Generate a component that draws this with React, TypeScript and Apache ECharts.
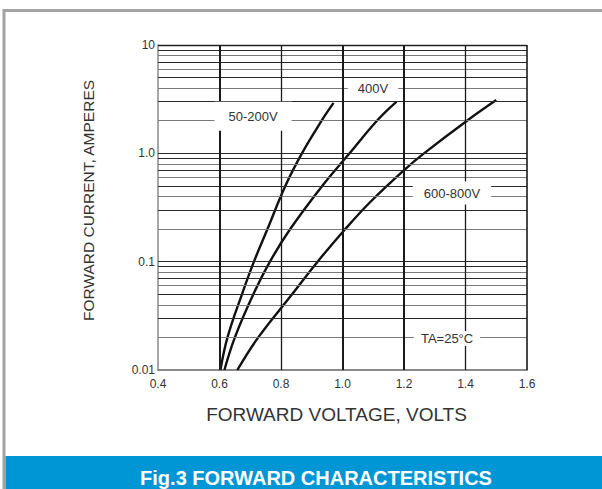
import React, { useEffect, useRef } from "react";
import * as echarts from "echarts";

// ---- data ----
const xTicks = [0.4, 0.6, 0.8, 1.0, 1.2, 1.4, 1.6];
const yTickLabels: Record<string, string> = { "0.01": "0.01", "0.1": "0.1", "1": "1.0", "10": "10" };

const v50x = [0.603, 0.626, 0.673, 0.712, 0.756, 0.814, 0.868, 0.932, 0.971];
const v50y = [0.01, 0.02, 0.05, 0.1, 0.2, 0.5, 1.0, 2.0, 2.92];

const v400x = [0.616, 0.650, 0.710, 0.764, 0.830, 0.934, 1.023, 1.112, 1.176];
const v400y = [0.01, 0.02, 0.05, 0.1, 0.2, 0.5, 1.0, 2.0, 3.0];

const v600x = [0.658, 0.726, 0.836, 0.919, 1.005, 1.088, 1.205, 1.265, 1.405, 1.500];
const v600y = [0.01, 0.02, 0.05, 0.1, 0.194, 0.35, 0.72, 1.0, 2.0, 3.1];

const decades = [0.01, 0.1, 1];
const mantissas = [1, 2, 3, 4, 5, 6, 7, 8, 9];

const curveLabels = [
  { name: "50-200V", x: 0.709, y: 2.2 },
  { name: "400V", x: 1.099, y: 3.95 },
  { name: "600-800V", x: 1.356, y: 0.43 },
  { name: "TA=25°C", x: 1.34, y: 0.0195 },
];

const title = "Fig.3 FORWARD CHARACTERISTICS";
const xName = "FORWARD VOLTAGE, VOLTS";
const yName = "FORWARD CURRENT, AMPERES";

const labelPadding: Record<string, number[]> = {
  "50-200V": [8, 14, 8, 14],
  "400V": [3, 10, 3, 10],
  "600-800V": [5, 11, 5, 11],
  "TA=25°C": [1, 7, 1, 7],
};
const verticalWidths: Record<string, number> = { "0.6": 2, "0.8": 1.3, "1": 2, "1.2": 2, "1.4": 1.3, "1.6": 1.6 };
const FONT = "'Liberation Sans', Arial, sans-serif";

export default function App() {
  const ref = useRef<HTMLDivElement>(null);
  useEffect(() => {
    if (!ref.current) return;
    const chart = echarts.init(ref.current, null, { renderer: "svg" });

    const hLines: any[] = [];
    decades.forEach((d) => {
      mantissas.forEach((m, i) => {
        const v = +(d * m).toPrecision(3);
        if (v <= 0.01) return;
        hLines.push({
          yAxis: v,
          lineStyle: { color: i % 2 === 0 ? "#2a2a2a" : "#7a7a7a", width: 1.1, type: "solid" },
        });
      });
    });
    hLines.push({ yAxis: 10, lineStyle: { color: "#222", width: 1.3, type: "solid" } });
    const vLines = xTicks
      .filter((x) => x > 0.4)
      .map((x) => ({
        xAxis: x,
        lineStyle: { color: "#1a1a1a", width: verticalWidths[String(x)] || 1.3, type: "solid" },
      }));

    const curve = (xs: number[], ys: number[]) => ({
      type: "line",
      data: xs.map((x, i) => [x, ys[i]]),
      showSymbol: false,
      smooth: 0.4,
      z: 4,
      lineStyle: { color: "#111", width: 2.4 },
      silent: true,
    });

    chart.setOption({
      animation: false,
      backgroundColor: "#fff",
      grid: { left: 158, top: 45, width: 369, height: 325 },
      graphic: [
        {
          type: "rect",
          shape: { x: 4, y: 10.5, width: 640, height: 520 },
          style: { fill: "none", stroke: "#a3a3a3", lineWidth: 3 },
          z: 0,
        },
        {
          type: "rect",
          shape: { x: 5.5, y: 456, width: 620, height: 40 },
          style: { fill: "#0096d6" },
          z: 1,
        },
        {
          type: "text",
          x: 316,
          y: 477.5,
          style: {
            text: title,
            fill: "#fff",
            font: `bold 20px ${FONT}`,
            align: "center",
            verticalAlign: "middle",
          },
          z: 2,
        },
      ],
      xAxis: {
        type: "value",
        min: 0.4,
        max: 1.6,
        interval: 0.2,
        name: xName,
        nameLocation: "middle",
        nameGap: 35,
        nameTextStyle: { color: "#333", fontSize: 19, fontFamily: FONT, padding: [0, 12, 0, 0] },
        axisLine: { show: true, lineStyle: { color: "#8a8a8a", width: 2 } },
        axisTick: { show: false },
        splitLine: { show: false },
        axisLabel: {
          color: "#333",
          fontSize: 12,
          margin: 8,
          fontFamily: FONT,
          formatter: (v: number) => v.toFixed(1),
        },
      },
      yAxis: {
        type: "log",
        logBase: 10,
        min: 0.01,
        max: 10,
        name: yName,
        nameLocation: "middle",
        nameGap: 62,
        nameTextStyle: { color: "#333", fontSize: 15.5, fontFamily: FONT, padding: [0, 0, 0, 14] },
        axisLine: { show: true, lineStyle: { color: "#8a8a8a", width: 1.5 } },
        axisTick: { show: false },
        splitLine: { show: false },
        axisLabel: {
          color: "#333",
          fontSize: 12,
          margin: 3,
          fontFamily: FONT,
          formatter: (v: number) => yTickLabels[String(+v.toPrecision(3))] ?? "",
        },
      },
      series: [
        {
          type: "line",
          data: [],
          z: 1,
          silent: true,
          markLine: {
            silent: true,
            symbol: ["none", "none"],
            label: { show: false },
            animation: false,
            data: [...hLines, ...vLines],
          },
        },
        curve(v50x, v50y),
        curve(v400x, v400y),
        curve(v600x, v600y),
        {
          type: "scatter",
          data: [],
          z: 6,
          silent: true,
          markPoint: {
            silent: true,
            symbol: "circle",
            symbolSize: 1,
            itemStyle: { color: "rgba(0,0,0,0)" },
            data: curveLabels.map((l) => ({
              name: l.name,
              coord: [l.x, l.y],
              label: {
                show: true,
                position: "inside",
                color: "#333",
                fontSize: 13,
                fontFamily: FONT,
                backgroundColor: "#fff",
                padding: labelPadding[l.name],
                formatter: (p: any) => p.name,
              },
            })),
          },
        },
      ],
    });
    return () => chart.dispose();
  }, []);
  return (
    <div
      ref={ref}
      style={{ position: "absolute", left: 0, top: 0, width: 602, height: 489 }}
    />
  );
}
